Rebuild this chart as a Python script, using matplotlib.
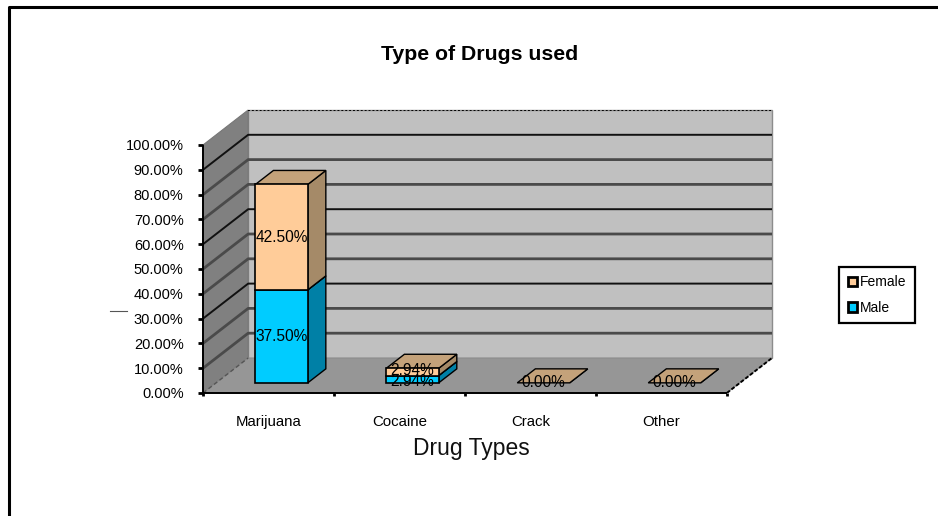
import matplotlib
matplotlib.use('Agg')
import matplotlib.pyplot as plt
from matplotlib.patches import Patch
from matplotlib.lines import Line2D

plt.rcParams['font.family'] = ['Liberation Sans', 'DejaVu Sans']

categories = ['Marijuana', 'Cocaine', 'Crack', 'Other']
male = [37.50, 2.94, 0.0, 0.0]
female = [42.50, 2.94, 0.0, 0.0]
y_ticks = [0, 10, 20, 30, 40, 50, 60, 70, 80, 90, 100]

# figure size in pixels
W, H = 938, 516

# oblique depth of the chart, in data units
depth_x = 45 / 130.5
depth_y = 35 / 2.48
x_end = 4 + depth_x
y_end = 100 + depth_y


def px(x, y, d=0.0):
    # move a data point back by d (0 = front, 1 = back wall)
    return x + d * depth_x, y + d * depth_y


def face(ax, pts, color, z, edge='none', lw=0.0):
    xs = [p[0] for p in pts]
    ys = [p[1] for p in pts]
    ax.fill(xs, ys, facecolor=color, edgecolor=edge, linewidth=lw, zorder=z, clip_on=False)


def draw_box(ax, x0, x1, y0, y1, d0, d1, front, side, top, z):
    face(ax, [px(x1, y0, d0), px(x1, y0, d1), px(x1, y1, d1), px(x1, y1, d0)], side, z, 'black', 1.0)
    face(ax, [px(x0, y1, d0), px(x1, y1, d0), px(x1, y1, d1), px(x0, y1, d1)], top, z, 'black', 1.0)
    if y1 > y0:
        face(ax, [px(x0, y0, d0), px(x1, y0, d0), px(x1, y1, d0), px(x0, y1, d0)], front, z + 0.1, 'black', 1.2)


fig = plt.figure(figsize=(W / 100, H / 100), dpi=100, facecolor='white')

# outer chart border
fig.add_artist(Line2D([8.5 / W, 8.5 / W, 1], [0, 1 - 6.5 / H, 1 - 6.5 / H], color='black', lw=2.2))
fig.add_artist(Line2D([110 / W, 127 / W], [1 - 310.5 / H, 1 - 310.5 / H], color='#555555', lw=0.8))

left = 203 / W
bottom = 1 - 393 / H
ax = fig.add_axes([left, bottom, (772 - 203) / W, (393 - 110) / H])
ax.set_xlim(0, x_end)
ax.set_ylim(0, y_end)
ax.patch.set_visible(False)

# walls and floor
face(ax, [px(0, 0, 1), px(4, 0, 1), px(4, 100, 1), px(0, 100, 1)], '#c0c0c0', 1, '#8c8c8c', 1.0)
face(ax, [px(0, 0), px(0, 0, 1), px(0, 100, 1), px(0, 100)], '#808080', 1, '#777777', 0.8)
face(ax, [px(0, 0), px(4, 0), px(4, 0, 1), px(0, 0, 1)], '#969696', 1, '#888888', 0.6)

# gridlines round the side and back walls
for i, v in enumerate(y_ticks[1:]):
    lw = 2.0 if i % 3 != 2 else 1.4
    col = '#4a4a4a' if i % 3 != 2 else '#111111'
    xs = [px(0, v)[0], px(0, v, 1)[0], px(4, v, 1)[0]]
    ys = [px(0, v)[1], px(0, v, 1)[1], px(4, v, 1)[1]]
    if v < 100:
        ax.plot(xs, ys, color=col, lw=lw, zorder=2, solid_capstyle='butt')

# dotted edges of the wall and the floor
ax.plot([px(0, 100, 1)[0], px(4, 100, 1)[0]], [px(0, 100, 1)[1]] * 2, color='black', lw=1.4, ls=(0, (1, 1)), zorder=3)
ax.plot([px(4, 0)[0], px(4, 0, 1)[0]], [px(4, 0)[1], px(4, 0, 1)[1]], color='black', lw=1.4, ls=(0, (2, 1)), zorder=3)
ax.plot([px(0, 0)[0], px(0, 0, 1)[0]], [px(0, 0)[1], px(0, 0, 1)[1]], color='#555555', lw=1.0, ls=(0, (3, 2)), zorder=3)

# stacked bars
bar_w = 0.4
d0, d1 = 0.29, 0.69
label_size = 11.2
for i, name in enumerate(categories):
    x0 = i + 0.5 - bar_w / 2
    x1 = i + 0.5 + bar_w / 2
    if male[i] > 0:
        draw_box(ax, x0, x1, 0, male[i], d0, d1, '#00ccff', '#0080a6', '#0080a6', 5 + i)
    if female[i] > 0:
        draw_box(ax, x0, x1, male[i], male[i] + female[i], d0, d1, '#ffcc99', '#a58a68', '#c4a27a', 5.5 + i)
    else:
        draw_box(ax, x0, x1, 0, 0, d0, d1, '#ffcc99', '#a58a68', '#c4a27a', 5.5 + i)
    cx = px(i + 0.5, 0, d0)[0]
    y_m = px(0, male[i] / 2, d0)[1]
    y_f = px(0, male[i] + female[i] / 2, d0)[1]
    if male[i] > 0:
        ax.text(cx, y_m - (0.8 if male[i] < 5 else 0), f'{male[i]:.2f}%', ha='center', va='center', fontsize=label_size, zorder=20)
        ax.text(cx, y_f + (0.6 if male[i] < 5 else 0), f'{female[i]:.2f}%', ha='center', va='center', fontsize=label_size, zorder=20)
    else:
        ax.text(cx, y_m, f'{male[i]:.2f}%', ha='center', va='center', fontsize=label_size, zorder=20)

# axes on the front plane
for s in ['top', 'right']:
    ax.spines[s].set_visible(False)
ax.spines['left'].set_bounds(0, 100)
ax.spines['bottom'].set_bounds(0, 4)
for s in ['left', 'bottom']:
    ax.spines[s].set_linewidth(1.4)
    ax.spines[s].set_linestyle((0, (1, 1)))
    ax.spines[s].set_zorder(4)

ax.set_yticks(y_ticks)
ax.set_yticklabels([f'{v:.2f}%' for v in y_ticks], fontsize=10.5)
ax.tick_params(axis='y', length=3.5, width=2.0, pad=10.5, color='black')
ax.set_xticks([0, 1, 2, 3, 4])
ax.set_xticklabels([])
ax.tick_params(axis='x', which='major', length=2.5, width=2.0, color='black')
ax.set_xticks([0.5, 1.5, 2.5, 3.5], minor=True)
ax.set_xticklabels(categories, minor=True, fontsize=10.8)
ax.tick_params(axis='x', which='minor', length=0, pad=16)

fig.text(480 / W, 1 - 54 / H, 'Type of Drugs used', ha='center', va='center', fontsize=15.3, fontweight='bold')
fig.text(471.5 / W, 1 - 449 / H, 'Drug Types', ha='center', va='center', fontsize=16.5, color='#111111')

handles = [Patch(facecolor='#ffcc99', edgecolor='black', linewidth=2.0, label='Female'),
           Patch(facecolor='#00ccff', edgecolor='black', linewidth=2.0, label='Male')]
leg = fig.legend(handles=handles, loc='center', bbox_to_anchor=(877 / W, 1 - 295 / H), fontsize=10,
                 frameon=True, fancybox=False, framealpha=1, edgecolor='black',
                 handlelength=0.65, handleheight=0.65, handletextpad=0.25, labelspacing=0.85,
                 borderpad=0.6, borderaxespad=0)
leg.get_frame().set_linewidth(1.6)

fig.savefig('out.png', dpi=100)
